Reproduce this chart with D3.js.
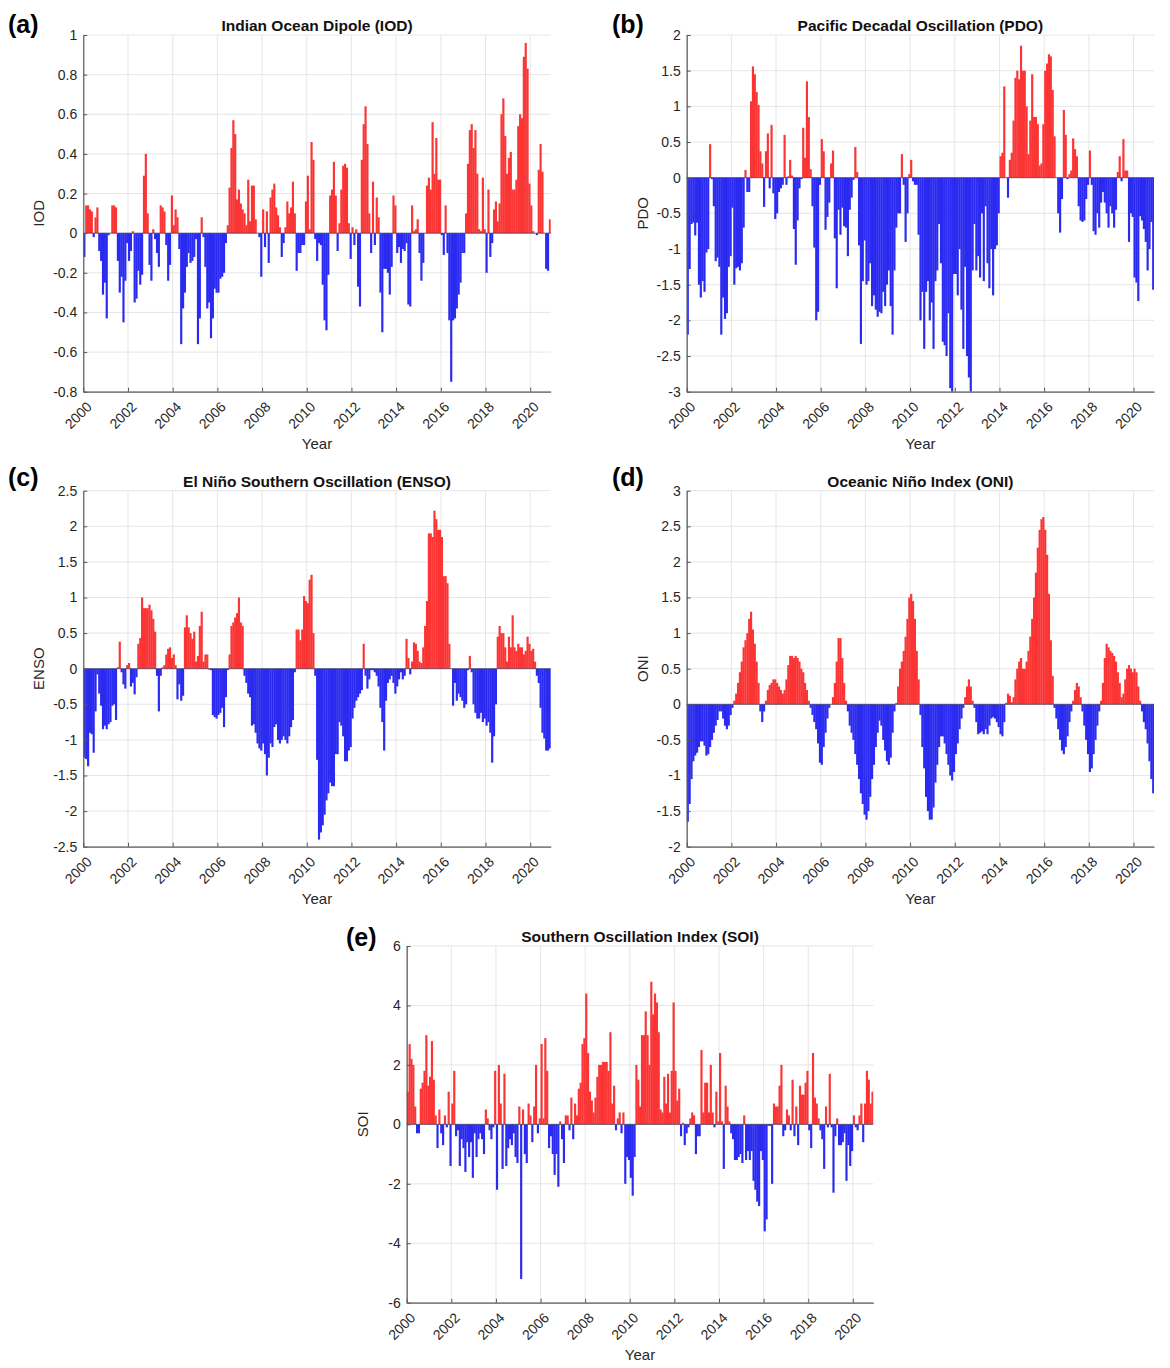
<!DOCTYPE html>
<html><head><meta charset="utf-8">
<script src="https://cdn.jsdelivr.net/npm/d3@7"></script>
<style>body{margin:0;background:#fff}svg{display:block}</style>
</head><body>
<svg id="fig" width="1170" height="1368"></svg>
<script>
// ---------- data (monthly, Jan 2000 .. Nov 2020) ----------
const startYear = 2000;
const yearTicks = [2000,2002,2004,2006,2008,2010,2012,2014,2016,2018,2020];

const iodValues = [
 -0.12,0.14,0.14,0.12,0.11,-0.02,0.08,0.13,-0.09,-0.14,-0.31,-0.25,
 -0.43,-0.01,0.0,0.14,0.14,0.13,-0.14,-0.30,-0.22,-0.45,-0.24,-0.05,
 -0.14,-0.09,0.01,-0.35,-0.33,-0.19,-0.26,-0.21,0.29,0.40,0.10,-0.16,
 -0.24,0.02,-0.03,-0.10,-0.17,0.14,0.13,0.11,-0.06,-0.24,-0.16,0.19,
 0.04,0.12,0.08,-0.08,-0.56,-0.38,-0.30,-0.17,-0.10,-0.15,-0.14,-0.12,
 -0.03,-0.56,-0.43,0.08,-0.02,-0.17,-0.38,-0.35,-0.53,-0.43,-0.28,-0.30,
 -0.30,-0.23,-0.22,-0.20,-0.05,0.04,0.23,0.43,0.57,0.50,0.17,0.22,
 0.15,0.12,0.10,0.04,0.27,0.06,0.24,0.24,0.07,0.0,-0.02,-0.22,
 0.12,-0.07,0.11,-0.15,0.18,0.22,0.25,0.13,0.09,0.03,-0.12,-0.05,
 0.03,0.16,0.10,0.13,0.26,0.10,-0.19,-0.10,-0.10,-0.06,-0.06,0.16,
 0.29,0.02,0.46,0.37,-0.03,-0.14,-0.05,-0.06,-0.26,-0.44,-0.49,-0.21,
 0.19,0.22,0.36,0.19,-0.09,0.05,0.22,0.34,0.35,0.33,0.05,-0.13,
 0.03,-0.06,0.02,-0.27,-0.37,0.37,0.55,0.64,0.45,0.10,-0.10,0.26,
 -0.06,0.18,0.08,-0.30,-0.50,-0.18,-0.18,-0.20,-0.31,-0.17,0.19,0.14,
 -0.10,-0.07,-0.15,-0.08,-0.09,-0.05,-0.36,-0.37,0.14,0.01,0.02,0.07,
 -0.10,-0.24,-0.15,0.0,0.24,0.28,0.22,0.56,0.30,0.48,0.27,0.27,
 -0.01,-0.11,0.14,-0.10,-0.44,-0.75,-0.44,-0.43,-0.38,-0.31,-0.25,-0.10,
 -0.10,0.10,0.35,0.52,0.55,0.43,0.52,0.30,0.02,0.01,0.28,0.02,
 -0.20,0.22,-0.12,-0.05,0.12,0.16,0.06,0.15,0.60,0.68,0.49,0.30,
 0.38,0.41,0.22,0.22,0.27,0.54,0.60,0.58,0.89,0.96,0.83,0.25,
 0.14,0.01,0.0,-0.01,0.32,0.45,0.31,0.0,-0.18,-0.19,0.07
];

const pdoValues = [
 -2.2,-1.28,-0.65,-0.63,-0.81,-0.63,-1.5,-1.68,-1.45,-1.6,-1.05,-1.0,
 0.47,-0.02,-0.4,-1.17,-1.12,-1.25,-2.2,-1.68,-1.98,-1.9,-1.25,-1.1,
 -0.42,-1.5,-1.27,-1.25,-1.3,-1.2,-0.7,0.11,-0.2,-0.2,1.07,1.56,
 1.45,1.2,1.02,0.37,0.2,-0.41,0.37,0.62,-0.15,0.74,-0.22,-0.58,
 -0.5,-0.2,-0.15,-0.1,0.6,-0.1,0.02,0.25,0.03,-0.72,-1.22,-0.6,
 -0.15,-0.02,0.7,0.28,1.35,0.85,0.12,-0.4,-0.98,-2.0,-1.88,-0.1,
 0.54,0.37,-0.73,-0.55,-0.35,0.2,0.38,-0.85,-1.55,-0.45,-0.8,-0.42,
 -0.68,-0.7,-1.1,-0.45,-0.28,-0.03,0.43,0.08,-0.95,-2.33,-1.45,-0.88,
 -1.5,-1.45,-1.2,-1.8,-1.65,-1.85,-1.95,-1.88,-1.9,-1.6,-1.8,-1.5,
 -1.3,-1.8,-2.2,-1.3,-0.7,-0.5,-0.5,0.33,-0.1,-0.9,-0.5,0.05,
 0.25,-0.05,-0.1,-0.1,-0.8,-2.0,-1.6,-2.4,-1.6,-1.45,-2.0,-1.75,
 -2.4,-1.45,-1.3,-0.65,-1.2,-2.3,-2.35,-2.5,-1.9,-2.95,-3.0,-1.35,
 -1.35,-1.65,-1.0,-1.85,-2.4,-1.25,-2.5,-2.8,-3.0,-1.3,-0.65,-1.3,
 -1.1,-1.4,-0.5,-1.45,-0.4,-1.2,-1.55,-1.0,-1.65,-1.0,-0.95,-0.5,
 0.3,0.35,1.28,0.0,-0.28,0.25,0.35,0.8,1.4,1.5,1.38,1.85,
 1.5,1.5,1.0,0.33,0.8,1.45,0.85,0.85,0.75,0.17,0.2,0.75,
 1.5,1.6,1.73,1.7,1.23,0.58,0.0,-0.5,-0.77,-0.3,0.95,0.6,
 -0.02,0.05,0.1,0.55,0.4,0.3,-0.4,-0.6,-0.62,-0.6,-0.3,-0.1,
 0.38,-0.1,-0.75,-0.8,-0.5,-0.7,-0.35,-0.2,-0.35,-0.5,-0.7,-0.4,
 -0.5,-0.7,-0.45,0.08,0.3,-0.05,0.54,0.1,0.1,-0.9,-0.5,-0.55,
 -1.4,-1.47,-1.73,-0.54,-0.6,-0.72,-0.9,-1.3,-1.0,-0.62,-1.57
];

const ensoValues = [
 -1.25,-1.27,-1.37,-0.9,-0.92,-1.18,-0.6,-0.08,-0.35,-0.52,-0.85,-0.8,
 -0.85,-0.78,-0.75,-0.52,-0.5,-0.72,0.02,0.38,-0.05,-0.22,-0.28,0.05,
 0.08,-0.25,-0.2,-0.36,-0.12,0.35,0.43,1.0,0.85,0.85,0.85,0.9,
 0.82,0.7,0.52,-0.1,-0.6,-0.1,0.02,0.05,0.2,0.28,0.3,0.15,
 0.2,0.05,-0.43,-0.22,-0.45,-0.38,0.58,0.75,0.58,0.5,0.42,0.52,
 0.1,0.18,0.6,0.8,0.1,0.2,0.2,-0.01,-0.02,-0.65,-0.68,-0.7,
 -0.65,-0.62,-0.55,-0.82,-0.4,-0.02,0.2,0.6,0.65,0.72,0.78,1.0,
 0.65,0.6,-0.1,-0.2,-0.35,-0.4,-0.8,-0.78,-0.9,-1.05,-1.12,-1.15,
 -1.05,-1.2,-1.5,-1.25,-1.05,-1.1,-0.82,-0.78,-1.0,-1.05,-1.0,-0.95,
 -1.0,-1.05,-0.95,-0.82,-0.72,-0.05,0.55,0.55,0.4,0.55,1.02,0.95,
 0.92,1.25,1.32,0.5,-0.1,-1.28,-2.4,-2.3,-2.2,-2.05,-1.85,-1.75,
 -1.6,-1.65,-1.65,-1.2,-1.2,-0.75,-0.8,-0.95,-1.3,-1.3,-1.15,-1.1,
 -0.7,-0.55,-0.45,-0.4,-0.35,-0.3,0.35,-0.1,-0.28,-0.15,-0.02,-0.02,
 -0.05,-0.1,-0.25,-0.55,-0.75,-1.15,-0.45,-0.2,-0.15,-0.1,-0.2,-0.35,
 -0.25,-0.15,-0.05,-0.15,-0.1,0.42,0.15,-0.08,0.1,0.37,0.35,0.25,
 0.1,0.08,0.3,0.6,0.95,1.9,1.9,1.85,2.22,2.1,1.95,1.95,
 1.85,1.3,1.3,1.2,0.35,0.0,-0.52,-0.2,-0.45,-0.35,-0.4,-0.45,
 -0.55,-0.5,-0.02,0.18,-0.05,-0.5,-0.62,-0.7,-0.7,-0.62,-0.75,-0.7,
 -0.8,-0.75,-0.9,-1.32,-0.95,-0.5,0.45,0.6,0.5,0.5,0.3,0.1,
 0.45,0.3,0.75,0.3,0.25,0.35,0.3,0.3,0.2,0.25,0.45,0.35,
 0.25,0.28,0.1,-0.1,-0.2,-0.55,-0.9,-0.98,-1.15,-1.15,-1.12
];

const oniValues = [
 -1.65,-1.4,-1.05,-0.8,-0.72,-0.68,-0.6,-0.52,-0.52,-0.58,-0.72,-0.7,
 -0.6,-0.5,-0.4,-0.3,-0.22,-0.1,-0.1,-0.2,-0.3,-0.35,-0.3,-0.15,
 -0.05,0.05,0.15,0.3,0.45,0.6,0.8,0.9,1.0,1.2,1.3,1.05,
 0.85,0.6,0.3,-0.1,-0.25,-0.1,0.05,0.2,0.27,0.3,0.35,0.35,
 0.3,0.25,0.2,0.15,0.2,0.35,0.55,0.68,0.68,0.65,0.68,0.65,
 0.6,0.5,0.45,0.3,0.2,0.05,-0.05,-0.15,-0.25,-0.35,-0.55,-0.82,
 -0.85,-0.6,-0.4,-0.2,-0.05,0.0,0.1,0.3,0.6,0.93,0.93,0.65,
 0.3,0.05,-0.1,-0.3,-0.4,-0.5,-0.7,-0.85,-1.05,-1.25,-1.4,-1.55,
 -1.62,-1.5,-1.3,-1.05,-0.85,-0.6,-0.4,-0.23,-0.3,-0.5,-0.65,-0.8,
 -0.85,-0.75,-0.4,-0.1,0.02,0.25,0.5,0.6,0.75,0.95,1.2,1.5,
 1.55,1.45,1.2,0.75,0.35,-0.15,-0.6,-0.9,-1.3,-1.5,-1.62,-1.62,
 -1.45,-1.1,-0.85,-0.6,-0.45,-0.45,-0.55,-0.7,-0.85,-1.0,-1.07,-0.95,
 -0.7,-0.55,-0.35,-0.2,-0.05,0.1,0.25,0.35,0.25,0.05,-0.05,-0.25,
 -0.42,-0.4,-0.38,-0.42,-0.35,-0.42,-0.3,-0.2,-0.18,-0.2,-0.25,-0.32,
 -0.42,-0.45,-0.25,0.02,0.15,0.12,0.03,0.1,0.35,0.5,0.6,0.65,
 0.5,0.5,0.6,0.75,0.95,1.2,1.5,1.85,2.2,2.45,2.6,2.63,
 2.45,2.1,1.55,0.9,0.4,-0.05,-0.2,-0.35,-0.5,-0.65,-0.7,-0.6,
 -0.45,-0.25,-0.1,0.05,0.2,0.3,0.25,0.1,-0.1,-0.3,-0.5,-0.7,
 -0.95,-0.9,-0.7,-0.5,-0.3,-0.1,0.05,0.3,0.65,0.85,0.8,0.75,
 0.72,0.68,0.6,0.45,0.3,0.1,0.15,0.35,0.5,0.55,0.5,0.45,
 0.5,0.45,0.25,0.05,-0.1,-0.25,-0.35,-0.55,-0.8,-1.05,-1.25
];

const soiValues = [
 1.1,2.7,2.2,2.0,0.6,-0.3,-0.3,1.2,1.4,1.8,3.0,1.3,
 1.6,2.8,1.5,0.3,-0.8,0.5,-0.3,-0.7,0.3,-0.1,1.1,-1.4,
 0.7,1.8,-0.4,-0.2,-1.4,-0.5,-0.8,-1.6,-0.6,-1.1,-0.6,-1.8,
 -0.3,-1.1,-0.5,-0.3,-0.5,-1.0,0.5,0.2,-0.2,-0.5,-0.1,1.8,
 -2.2,2.0,0.7,-1.5,1.7,-1.4,-0.8,-0.5,-0.7,-0.3,-1.1,-1.3,
 0.6,-5.2,0.5,-1.0,-1.3,0.7,0.3,-0.6,0.6,2.0,-0.3,0.2,
 2.7,0.2,2.9,1.8,-0.8,-0.4,-1.0,-1.7,-1.0,-2.1,0.1,-0.5,
 -1.3,0.3,0.3,-0.2,0.9,-0.5,0.7,0.3,1.2,1.4,2.7,2.9,
 4.4,2.4,1.1,0.8,0.4,0.9,1.6,2.0,2.0,2.1,2.1,2.1,
 1.8,3.1,0.7,1.3,-0.2,0.2,0.4,-0.3,0.4,-2.0,-1.1,-1.2,
 -1.8,-2.4,-1.1,2.0,1.5,0.6,3.0,3.0,3.8,3.0,2.0,4.8,
 3.7,4.4,4.1,3.1,0.5,0.4,1.6,0.7,1.7,0.4,1.8,4.1,
 1.8,0.8,1.2,-0.4,0.05,-0.7,-0.3,-0.1,0.2,0.4,0.3,-1.0,
 -0.4,-0.4,2.5,0.4,1.4,1.4,0.4,2.0,0.4,-0.1,1.1,0.1,
 2.4,0.1,-1.5,1.3,0.6,0.1,-0.3,-0.5,-1.2,-1.2,-1.1,-1.0,
 -1.3,0.3,-1.2,-0.9,-1.2,-0.9,-1.9,-2.2,-2.6,-2.75,-0.9,-1.2,
 -3.6,-3.2,-0.05,-0.05,-2.0,0.7,0.6,0.6,1.3,2.0,-0.4,-0.2,
 0.5,0.3,-0.2,1.5,-0.4,0.6,-0.7,1.3,1.0,1.0,1.4,1.8,
 -0.2,-0.8,2.4,0.9,0.7,0.2,-0.2,-0.5,-1.5,0.6,-0.1,1.7,
 -0.1,-2.3,-0.4,0.2,-0.7,-0.7,-0.6,-0.3,-1.9,-0.7,-1.4,-0.9,
 0.3,-0.1,-0.2,0.3,0.7,-0.6,0.7,1.8,1.5,0.7,1.1
];

const iodTicks  = [-0.8,-0.6,-0.4,-0.2,0,0.2,0.4,0.6,0.8,1];
const pdoTicks  = [-3,-2.5,-2,-1.5,-1,-0.5,0,0.5,1,1.5,2];
const ensoTicks = [-2.5,-2,-1.5,-1,-0.5,0,0.5,1,1.5,2,2.5];
const oniTicks  = [-2,-1.5,-1,-0.5,0,0.5,1,1.5,2,2.5,3];
const soiTicks  = [-6,-4,-2,0,2,4,6];

// ---------- layout ----------
const panels = [
  {tag:"(a)", title:"Indian Ocean Dipole (IOD)", ylab:"IOD", vals:iodValues, ticks:iodTicks,
   box:{l:83.3, r:550.7, t:35, b:391.7}, tagPos:[8,33]},
  {tag:"(b)", title:"Pacific Decadal Oscillation (PDO)", ylab:"PDO", vals:pdoValues, ticks:pdoTicks,
   box:{l:686.7, r:1154, t:35, b:391.7}, tagPos:[612,33]},
  {tag:"(c)", title:"El Niño Southern Oscillation (ENSO)", ylab:"ENSO", vals:ensoValues, ticks:ensoTicks,
   box:{l:83.3, r:550.7, t:490.7, b:846.7}, tagPos:[8,486]},
  {tag:"(d)", title:"Oceanic Niño Index (ONI)", ylab:"ONI", vals:oniValues, ticks:oniTicks,
   box:{l:686.7, r:1154, t:490.7, b:846.7}, tagPos:[612,486]},
  {tag:"(e)", title:"Southern Oscillation Index (SOI)", ylab:"SOI", vals:soiValues, ticks:soiTicks,
   box:{l:406.7, r:873.3, t:946, b:1302.7}, tagPos:[346,946]}
];

const RED = "#fb3434", BLUE = "#2a2af0", GRID = "#e3e3e3", INK = "#262626", AXIS = "#5a5a5a";
const FONT = "'Liberation Sans', Arial, Helvetica, sans-serif";
const svg = d3.select("#fig");
svg.append("rect").attr("width",1170).attr("height",1368).attr("fill","#fff");

panels.forEach(p => {
  const {l, r, t, b} = p.box;
  const n = p.vals.length;
  const x = d3.scaleLinear().domain([startYear, startYear + n/12]).range([l, r]);
  const y = d3.scaleLinear().domain([d3.min(p.ticks), d3.max(p.ticks)]).range([b, t]);
  const g = svg.append("g");
  const clipId = "clip" + p.ylab;
  g.append("clipPath").attr("id", clipId).append("rect")
    .attr("x", l).attr("y", t).attr("width", r - l).attr("height", b - t);

  // grid
  g.append("g").selectAll("line").data(yearTicks).join("line")
    .attr("x1", d => x(d)).attr("x2", d => x(d)).attr("y1", t).attr("y2", b)
    .attr("stroke", GRID).attr("stroke-width", 0.9);
  g.append("g").selectAll("line").data(p.ticks).join("line")
    .attr("x1", l).attr("x2", r).attr("y1", d => y(d)).attr("y2", d => y(d))
    .attr("stroke", GRID).attr("stroke-width", 0.9);

  // bars
  const data = p.vals.map((v, i) => ({v, t0: startYear + i/12}));
  const bw = x(startYear + 1/12) - x(startYear);
  g.append("g").attr("clip-path", `url(#${clipId})`)
    .selectAll("rect").data(data.filter(d => d.v !== 0)).join("rect")
    .attr("x", d => x(d.t0))
    .attr("width", bw + 0.3)
    .attr("y", d => Math.min(y(d.v), y(0)))
    .attr("height", d => Math.abs(y(d.v) - y(0)))
    .attr("fill", d => d.v > 0 ? RED : BLUE);

  // baseline
  g.append("line").attr("x1", l).attr("x2", r).attr("y1", y(0)).attr("y2", y(0))
    .attr("stroke", "#3a3a5a").attr("stroke-width", 0.7);

  // axes
  const fmt = d => String(d);
  const ya = g.append("g").attr("transform", `translate(${l},0)`)
    .call(d3.axisLeft(y).tickValues(p.ticks).tickFormat(fmt).tickSizeInner(-4).tickSizeOuter(0).tickPadding(6));
  const xa = g.append("g").attr("transform", `translate(0,${b})`)
    .call(d3.axisBottom(x).tickValues(yearTicks).tickFormat(d3.format("d")).tickSizeInner(-4).tickSizeOuter(0));
  [ya, xa].forEach(a => {
    a.select(".domain").attr("stroke", AXIS).attr("stroke-width", 1.2);
    a.selectAll(".tick line").attr("stroke", AXIS).attr("stroke-width", 1);
    a.selectAll("text").attr("fill", INK).style("font-family", FONT).style("font-size", "14px");
  });
  xa.selectAll("text")
    .attr("text-anchor", "end").attr("dy", null)
    .attr("x", 9).attr("y", 16)
    .attr("transform", "rotate(-45,9,16)");

  // labels
  g.append("text").attr("x", (l + r)/2).attr("y", t - 4).attr("text-anchor", "middle")
    .style("font-family", FONT).style("font-weight", "bold").style("font-size", "15.5px")
    .attr("fill", "#111").text(p.title);
  g.append("text").attr("transform", `translate(${l - 39},${(t + b)/2}) rotate(-90)`)
    .attr("text-anchor", "middle").style("font-family", FONT).style("font-size", "15px")
    .attr("fill", INK).text(p.ylab);
  g.append("text").attr("x", (l + r)/2).attr("y", b + 57).attr("text-anchor", "middle")
    .style("font-family", FONT).style("font-size", "15px").attr("fill", INK).text("Year");
  g.append("text").attr("x", p.tagPos[0]).attr("y", p.tagPos[1])
    .style("font-family", FONT).style("font-weight", "bold").style("font-size", "25px")
    .attr("fill", "#000").text(p.tag);
});
</script>
</body></html>
